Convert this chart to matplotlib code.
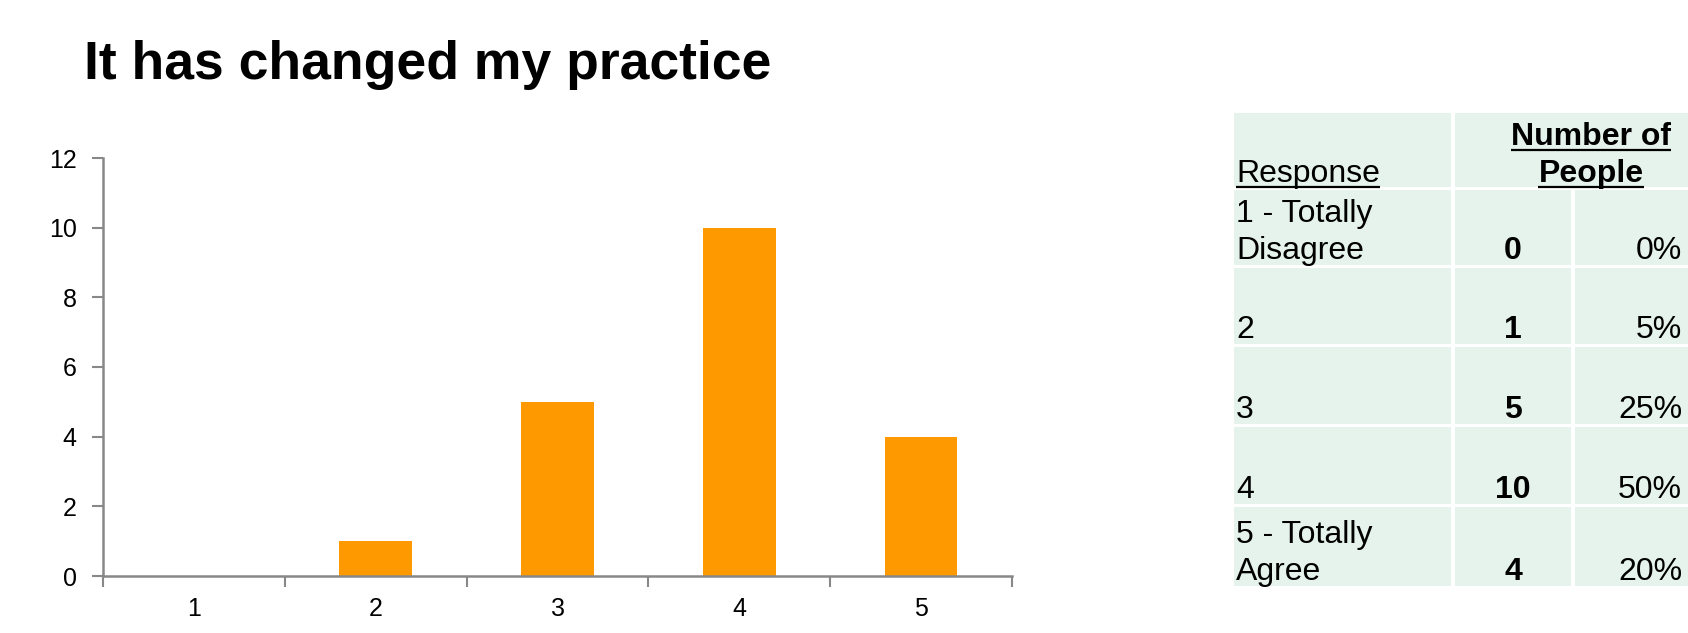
import matplotlib.pyplot as plt
from matplotlib.patches import Rectangle

plt.rcParams['font.family'] = ['Liberation Sans', 'DejaVu Sans']

# Survey data
responses = ['1', '2', '3', '4', '5']
counts = [0, 1, 5, 10, 4]
table_labels = ['1 - Totally\nDisagree', '2', '3', '4', '5 - Totally\nAgree']
title = 'It has changed my practice'

total = sum(counts)
percents = [f"{round(c / total * 100)}%" for c in counts]

fig = plt.figure(figsize=(16.88, 6.33), dpi=100)

# Bar chart
ax = fig.add_axes([103 / 1688, 57 / 633, 909 / 1688, 418 / 633])
x = list(range(1, len(responses) + 1))
ax.bar(x, counts, width=0.4, color='#FF9900')
ax.set_xlim(0.5, len(responses) + 0.5)
ax.set_ylim(0, 12)
ax.set_yticks(range(0, 13, 2))
ax.set_xticks(x)
ax.set_xticklabels(responses)
ax.set_xticks([i + 0.5 for i in range(len(responses) + 1)], minor=True)
ax.tick_params(axis='x', which='major', length=0, pad=15, labelsize=18)
ax.tick_params(axis='x', which='minor', length=8, width=1.5, color='#888888')
ax.tick_params(axis='y', length=8, width=1.5, color='#888888', pad=11, labelsize=18)
for side in ['top', 'right']:
    ax.spines[side].set_visible(False)
for side in ['left', 'bottom']:
    ax.spines[side].set_color('#888888')
    ax.spines[side].set_linewidth(1.8)

# Title
fig.text(84 / 1688, 1 - 79 / 633, title, fontsize=38.5, fontweight='bold',
         va='baseline', ha='left')

# Table drawn on an overlay in pixel coordinates
ov = fig.add_axes([0, 0, 1, 1])
ov.set_xlim(0, 1688)
ov.set_ylim(633, 0)
ov.axis('off')

fill = '#E5F3EC'
col_x = [(1234, 1451), (1455, 1571), (1575, 1740)]
header = (113, 187)
rows = [(190, 265), (268, 344), (347, 424), (427, 504), (507, 586)]
fs = 23
line_h = 37

ov.add_patch(Rectangle((col_x[0][0], header[0]), col_x[0][1] - col_x[0][0],
                       header[1] - header[0], color=fill, lw=0))
ov.add_patch(Rectangle((col_x[1][0], header[0]), col_x[2][1] - col_x[1][0],
                       header[1] - header[0], color=fill, lw=0))
for top, bot in rows:
    for x0, x1 in col_x:
        ov.add_patch(Rectangle((x0, top), x1 - x0, bot - top, color=fill, lw=0))

underlined = []
underlined.append(ov.text(1236, 182, 'Response', fontsize=fs, va='baseline', ha='left'))
underlined.append(ov.text(1591, 145, 'Number of', fontsize=fs, fontweight='bold',
                          va='baseline', ha='center'))
underlined.append(ov.text(1591, 182, 'People', fontsize=fs, fontweight='bold',
                          va='baseline', ha='center'))

for (top, bot), label, cnt, pct in zip(rows, table_labels, counts, percents):
    base = bot - 6
    lines = label.split('\n')
    for k, line in enumerate(reversed(lines)):
        ov.text(1236, base - k * line_h, line, fontsize=fs, va='baseline', ha='left')
    ov.text(1513, base, str(cnt), fontsize=fs, fontweight='bold', va='baseline', ha='center')
    ov.text(1682, base, pct, fontsize=fs, va='baseline', ha='right')

# Underlines for the header texts
fig.canvas.draw()
renderer = fig.canvas.get_renderer()
inv = ov.transData.inverted()
for t in underlined:
    bb = t.get_window_extent(renderer)
    x0, _ = inv.transform((bb.x0, bb.y0))
    x1, _ = inv.transform((bb.x1, bb.y0))
    y = t.get_position()[1] + 5
    ov.plot([x0, x1], [y, y], color='black', lw=1.6, solid_capstyle='butt')

fig.savefig('out.png', dpi=100)
